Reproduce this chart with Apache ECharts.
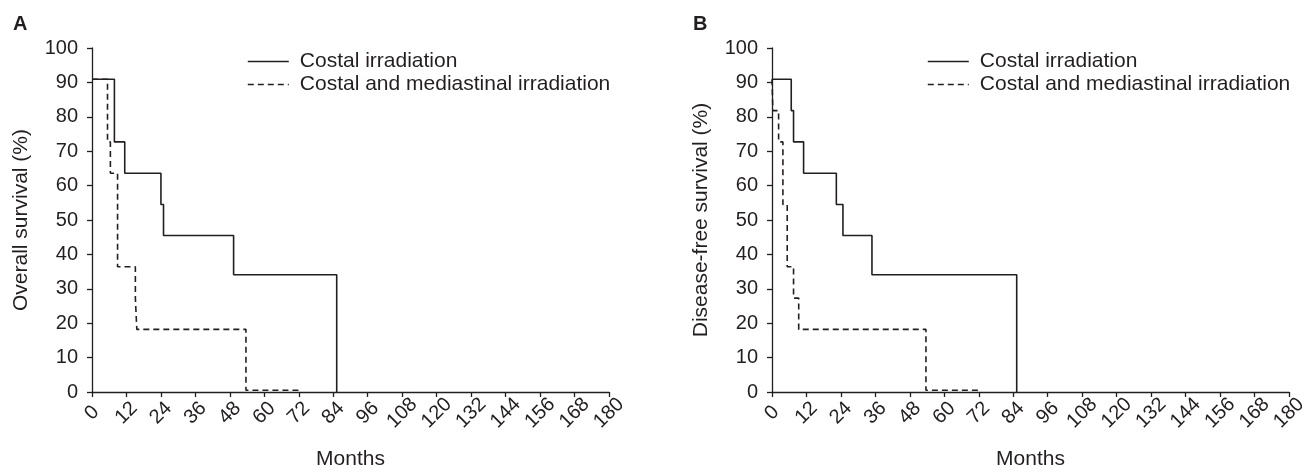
<!DOCTYPE html>
<html>
<head>
<meta charset="utf-8">
<script src="https://cdn.jsdelivr.net/npm/echarts@6/dist/echarts.min.js"></script>
<style>
html, body { margin: 0; background: #fff; }
#chart { width: 1310px; height: 475px; }
</style>
</head>
<body>
<div id="chart"></div>
<script>
// Kaplan-Meier steps (months, survival %)
var osCostalTime = [0, 7.8, 11.4, 24.0, 24.9, 49.3, 85.2];
var osCostalSurv = [90.9, 72.7, 63.6, 54.5, 45.5, 34.1, 0];
var osMixedTime = [0, 5.4, 6.4, 8.9, 15.1, 15.6, 53.6, 72.2];
var osMixedSurv = [90.9, 72.7, 63.6, 36.4, 27.3, 18.2, 0.5, 0.5];

var dfsCostalTime = [0, 6.7, 7.5, 11.0, 22.4, 24.7, 34.8, 85.2];
var dfsCostalSurv = [90.9, 81.8, 72.7, 63.6, 54.5, 45.5, 34.1, 0];
var dfsMixedTime = [0, 0.3, 2.3, 3.8, 5.3, 7.5, 9.3, 53.6, 72.0];
var dfsMixedSurv = [90.9, 81.8, 72.7, 54.5, 36.4, 27.3, 18.2, 0.5, 0.5];

var groupNames = ['Costal irradiation', 'Costal and mediastinal irradiation'];
var panelLabels = ['A', 'B'];
var yTitles = ['Overall survival (%)', 'Disease-free survival (%)'];
var xTitle = 'Months';

var ink = '#231f20';
var fontName = 'Liberation Sans, Arial, sans-serif';

function pairs(t, s) {
    return t.map(function (v, i) { return [v, s[i]]; });
}

function xAxisFor(idx) {
    return {
        gridIndex: idx,
        type: 'value',
        min: 0,
        max: 180,
        interval: 12,
        name: xTitle,
        nameLocation: 'middle',
        nameGap: 57,
        nameTextStyle: { color: ink, fontSize: 21, fontFamily: fontName },
        axisLine: { lineStyle: { color: ink, width: 1.3 } },
        axisTick: { length: 5, lineStyle: { color: ink, width: 1.3 } },
        // labels are centred under their tick, turned 45 degrees
        axisLabel: {
            rotate: 45, margin: 21, align: 'center', verticalAlign: 'middle',
            color: ink, fontSize: 20, fontFamily: fontName
        },
        splitLine: { show: false }
    };
}

function yAxisFor(idx) {
    return {
        gridIndex: idx,
        type: 'value',
        min: 0,
        max: 100,
        interval: 10,
        name: yTitles[idx],
        nameLocation: 'middle',
        nameGap: 60,
        nameTextStyle: { color: ink, fontSize: 21, fontFamily: fontName },
        axisLine: { show: true, lineStyle: { color: ink, width: 1.3 } },
        axisTick: { show: true, length: 5, lineStyle: { color: ink, width: 1.3 } },
        axisLabel: { margin: 14, color: ink, fontSize: 20, fontFamily: fontName },
        splitLine: { show: false }
    };
}

function kmSeries(name, idx, data, dashed) {
    return {
        name: name,
        type: 'line',
        step: 'end',
        xAxisIndex: idx,
        yAxisIndex: idx,
        symbol: 'none',
        data: data,
        lineStyle: { color: ink, width: 1.6, type: dashed ? [6, 4] : 'solid' },
        itemStyle: { color: ink },
        animation: false
    };
}

function legendFor(left) {
    return {
        orient: 'vertical',
        left: left,
        top: 45,
        itemWidth: 41,
        itemHeight: 14,
        itemGap: 0,
        selectedMode: false,
        data: groupNames,
        itemStyle: { opacity: 0 },
        lineStyle: { width: 1.6 },
        textStyle: { color: ink, fontSize: 21, lineHeight: 23, fontFamily: fontName, padding: [0, 0, 0, 6] }
    };
}

var chart = echarts.init(document.getElementById('chart'));
chart.setOption({
    backgroundColor: '#fff',
    animation: false,
    title: [
        { text: panelLabels[0], left: 13, top: 14, padding: 0, textStyle: { color: ink, fontSize: 20, fontWeight: 'bold', fontFamily: fontName } },
        { text: panelLabels[1], left: 693, top: 14, padding: 0, textStyle: { color: ink, fontSize: 20, fontWeight: 'bold', fontFamily: fontName } }
    ],
    legend: [legendFor(242), legendFor(922)],
    grid: [
        { left: 92, top: 48, width: 517, bottom: 77 },
        { left: 772, top: 48, width: 517, bottom: 77 }
    ],
    xAxis: [xAxisFor(0), xAxisFor(1)],
    yAxis: [yAxisFor(0), yAxisFor(1)],
    series: [
        kmSeries(groupNames[0], 0, pairs(osCostalTime, osCostalSurv), false),
        kmSeries(groupNames[1], 0, pairs(osMixedTime, osMixedSurv), true),
        kmSeries(groupNames[0], 1, pairs(dfsCostalTime, dfsCostalSurv), false),
        kmSeries(groupNames[1], 1, pairs(dfsMixedTime, dfsMixedSurv), true)
    ]
});
</script>
</body>
</html>
